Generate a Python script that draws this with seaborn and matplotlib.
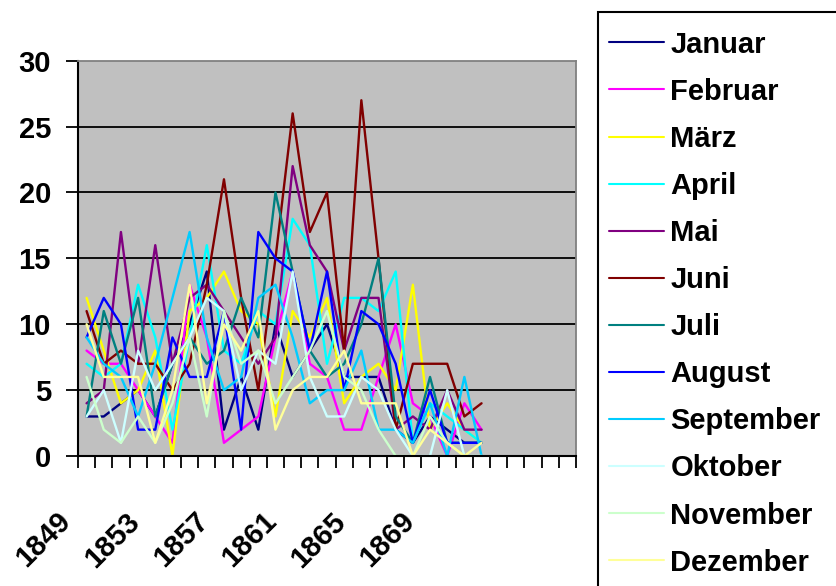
import numpy as np
import pandas as pd
import matplotlib
matplotlib.use("Agg")
import matplotlib.pyplot as plt
import matplotlib.transforms as mtransforms
from matplotlib.lines import Line2D
from matplotlib.patches import Rectangle
import seaborn as sns

# --- data (1849-1872) ---
years = list(range(1849, 1873))
axis_years = list(range(1849, 1878))
label_years = [1849, 1853, 1857, 1861, 1865, 1869]

months = ["Januar", "Februar", "März", "April", "Mai", "Juni", "Juli",
          "August", "September", "Oktober", "November", "Dezember"]

januar = [3, 3, 4, 5, 3, 7, 10, 14, 2, 6, 2, 10, 6, 8, 10, 6, 6, 6, 2, 1, 3, 2, 1, 1]
februar = [8, 7, 7, 5, 3, 1, 13, 9, 1, 2, 3, 9, 14, 7, 6, 2, 2, 6, 10, 4, 3, 0, 4, 2]
maerz = [12, 8, 4, 5, 8, 0, 11, 12, 14, 11, 10, 3, 11, 9, 12, 4, 6, 7, 5, 13, 2, 4, 2, 1]
april = [7, 6, 7, 13, 9, 2, 9, 16, 8, 7, 11, 10, 18, 16, 7, 12, 12, 11, 14, 1, 4, 3, 2, 1]
mai = [4, 5, 17, 7, 16, 7, 12, 13, 11, 9, 7, 9, 22, 16, 14, 8, 12, 12, 2, 3, 2, 5, 2, 2]
juni = [11, 7, 8, 7, 7, 5, 7, 13, 21, 12, 5, 15, 26, 17, 20, 8, 27, 15, 2, 7, 7, 7, 3, 4]
juli = [3, 11, 7, 12, 3, 7, 9, 7, 8, 12, 9, 20, 14, 8, 6, 7, 10, 15, 3, 1, 6, 1, 1, 1]
august = [9, 12, 10, 2, 2, 9, 6, 6, 11, 2, 17, 15, 14, 8, 14, 5, 11, 10, 7, 1, 5, 1, 1, 1]
september = [9, 7, 6, 3, 7, 12, 17, 9, 5, 6, 12, 13, 9, 4, 5, 5, 8, 2, 2, 1, 4, 0, 6, 0]
oktober = [3, 5, 1, 8, 5, 7, 9, 12, 11, 5, 8, 7, 14, 6, 3, 3, 6, 5, 2, 0, 0, 5, 0, 0]
november = [6, 2, 1, 3, 1, 4, 9, 3, 11, 7, 8, 4, 6, 8, 11, 6, 5, 2, 0, 0, 3, 1, 0, 0]
dezember = [10, 6, 6, 6, 1, 5, 13, 4, 10, 8, 11, 2, 5, 6, 6, 8, 4, 4, 4, 0, 2, 1, 0, 1]

series = [januar, februar, maerz, april, mai, juni, juli,
          august, september, oktober, november, dezember]

colors = ["#000080", "#FF00FF", "#FFFF00", "#00FFFF", "#800080", "#800000",
          "#008080", "#0000FF", "#00CCFF", "#CCFFFF", "#CCFFCC", "#FFFF99"]

# long table for seaborn
rows = []
for name, vals in zip(months, series):
    for i, v in enumerate(vals):
        rows.append({"pos": i, "Monat": name, "Wert": v})
df = pd.DataFrame(rows)

sns.set_theme(style="white")
plt.rcParams["font.family"] = ["Liberation Sans", "DejaVu Sans"]
plt.rcParams["font.weight"] = "bold"
plt.rcParams["text.color"] = "black"
plt.rcParams["xtick.color"] = "black"
plt.rcParams["ytick.color"] = "black"

fig = plt.figure(figsize=(8.37, 5.86), dpi=100)
ax = fig.add_axes([78 / 837, 1 - 456 / 586, (576 - 78) / 837, (456 - 60.7) / 586])
ax.set_facecolor("#C0C0C0")

sns.lineplot(data=df, x="pos", y="Wert", hue="Monat", hue_order=months,
             palette=colors, linewidth=1.7, legend=False, ax=ax)

# horizontal gridlines
for yv in [5, 10, 15, 20, 25]:
    ax.axhline(yv, color="black", linewidth=1.3, zorder=0.5)

ax.set_xlim(-0.5, len(axis_years) - 0.5)
ax.set_ylim(0, 30)
ax.set_xlabel("")
ax.set_ylabel("")

# y axis
ax.set_yticks([0, 5, 10, 15, 20, 25, 30])
ax.set_yticklabels(["0", "5", "10", "15", "20", "25", "30"], fontsize=21,
                   fontweight="bold", color="black")
ax.tick_params(axis="y", direction="out", length=8.5, width=1.3, color="black",
               pad=11, left=True)

# x axis: tick marks between categories, labels every 4 years
ax.set_xticks(np.arange(len(axis_years) + 1) - 0.5, minor=True)
ax.tick_params(axis="x", which="minor", direction="out", length=8.5, width=1.3,
               color="black", bottom=True)
label_pos = [axis_years.index(y) for y in label_years]
ax.set_xticks(label_pos)
ax.set_xticklabels([str(y) for y in label_years], fontsize=21, fontweight="bold",
                   color="black", rotation=45, ha="right", va="center",
                   rotation_mode="anchor")
ax.tick_params(axis="x", which="major", length=0, pad=44)
shift = mtransforms.ScaledTranslation(-0.2, 0, fig.dpi_scale_trans)
for lab in ax.get_xticklabels():
    lab.set_transform(lab.get_transform() + shift)

for side in ["left", "bottom"]:
    ax.spines[side].set_color("black")
    ax.spines[side].set_linewidth(1.5)
for side in ["top", "right"]:
    ax.spines[side].set_color("#808080")
    ax.spines[side].set_linewidth(1.3)

# legend box runs off the bottom/right edge like in the original
box = Rectangle((598 / 837, -0.1), 0.4, 1 - 12 / 586 + 0.1,
                transform=fig.transFigure, facecolor="white",
                edgecolor="black", linewidth=1.5, zorder=1)
fig.add_artist(box)

handles = [Line2D([0], [0], color=c, linewidth=1.5) for c in colors]
leg = fig.legend(handles, months, loc="upper left",
                 bbox_to_anchor=(596 / 837, 1 - 18 / 586), borderaxespad=0,
                 frameon=False,
                 prop={"size": 21, "weight": "bold"},
                 handlelength=1.9, handletextpad=0.22,
                 labelspacing=0.655, borderpad=0.43)
leg.set_zorder(2)
for t in leg.get_texts():
    t.set_color("black")

fig.savefig("out.png", dpi=100)
